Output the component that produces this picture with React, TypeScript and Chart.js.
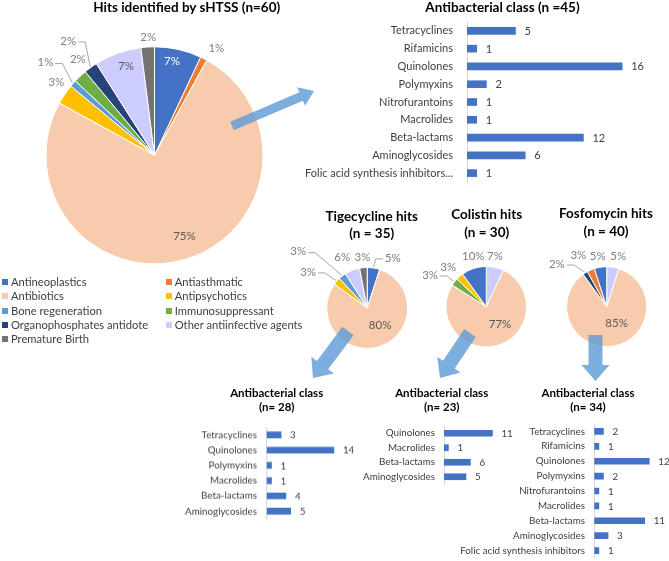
import React, { useEffect, useRef } from 'react';
import { Chart, registerables } from 'chart.js';

Chart.register(...registerables);

const FONT = 'Lato, "Open Sans", "DejaVu Sans", sans-serif';
const TEXT = '#404040';

// ---------- data ----------
const classes = [
  'Antineoplastics',
  'Antiasthmatic',
  'Antibiotics',
  'Antipsychotics',
  'Bone regeneration',
  'Immunosuppressant',
  'Organophosphates antidote',
  'Other antiinfective agents',
  'Premature Birth',
];
const hitsShare = [7, 1, 75, 3, 1, 2, 2, 7, 2];

const tigeClasses = ['Antineoplastics', 'Antibiotics', 'Antipsychotics', 'Bone regeneration', 'Other antiinfective agents', 'Premature Birth'];
const tigeShare = [5, 80, 3, 3, 6, 3];

const colClasses = ['Other antiinfective agents', 'Antibiotics', 'Immunosuppressant', 'Antipsychotics', 'Antineoplastics'];
const colShare = [7, 77, 3, 3, 10];

const fosClasses = ['Other antiinfective agents', 'Antibiotics', 'Organophosphates antidote', 'Antiasthmatic', 'Antineoplastics'];
const fosShare = [5, 85, 2, 3, 5];

const abClasses = ['Tetracyclines', 'Rifamicins', 'Quinolones', 'Polymyxins', 'Nitrofurantoins', 'Macrolides', 'Beta-lactams', 'Aminoglycosides', 'Folic acid synthesis inhibitors...'];
const abCounts = [5, 1, 16, 2, 1, 1, 12, 6, 1];

const tigeAbClasses = ['Tetracyclines', 'Quinolones', 'Polymyxins', 'Macrolides', 'Beta-lactams', 'Aminoglycosides'];
const tigeAbCounts = [3, 14, 1, 1, 4, 5];

const colAbClasses = ['Quinolones', 'Macrolides', 'Beta-lactams', 'Aminoglycosides'];
const colAbCounts = [11, 1, 6, 5];

const fosAbClasses = ['Tetracyclines', 'Rifamicins', 'Quinolones', 'Polymyxins', 'Nitrofurantoins', 'Macrolides', 'Beta-lactams', 'Aminoglycosides', 'Folic acid synthesis inhibitors'];
const fosAbCounts = [2, 1, 12, 2, 1, 1, 11, 3, 1];

const mainTitle = ['Hits identified by sHTSS (n=60)'];
const abTitle = ['Antibacterial class (n =45)'];
const tigeTitle = ['Tigecycline hits', '(n = 35)'];
const colTitle = ['Colistin hits', '(n = 30)'];
const fosTitle = ['Fosfomycin hits', '(n = 40)'];
const tigeAbTitle = ['Antibacterial class', '(n= 28)'];
const colAbTitle = ['Antibacterial class', '(n= 23)'];
const fosAbTitle = ['Antibacterial class', '(n= 34)'];

// ---------- styles ----------
const classColor: Record<string, string> = {
  'Antineoplastics': '#4472C4',
  'Antiasthmatic': '#ED7D31',
  'Antibiotics': '#F8CBAD',
  'Antipsychotics': '#FFC000',
  'Bone regeneration': '#5B9BD5',
  'Immunosuppressant': '#70AD47',
  'Organophosphates antidote': '#264478',
  'Other antiinfective agents': '#CCCCFF',
  'Premature Birth': '#767171',
};
const BAR = '#4472C4';
const OUT_LABEL = '#7F7F7F';
const IN_LABEL = '#595959';

type Place = { f: number; a: number; c?: string; leader?: boolean };
type Box = { l: number; t: number; w: number; h: number };

Chart.defaults.font.family = FONT;

const pieLabelPlugin = {
  id: 'pieLabels',
  afterDatasetsDraw(chart: any, _args: any, opts: any) {
    const meta = chart.getDatasetMeta(0);
    const ds = chart.data.datasets[0];
    const ctx = chart.ctx;
    ctx.save();
    ctx.font = `${opts.size}px ${FONT}`;
    ctx.textAlign = 'center';
    ctx.textBaseline = 'middle';
    meta.data.forEach((arc: any, i: number) => {
      const p: Place = opts.place[i];
      const { x, y, startAngle, endAngle, outerRadius } = arc.getProps(['x', 'y', 'startAngle', 'endAngle', 'outerRadius'], true);
      const mid = (startAngle + endAngle) / 2;
      const ang = mid + (p.a * Math.PI) / 180;
      const rr = outerRadius * p.f;
      const lx = x + Math.cos(ang) * rr;
      const ly = y + Math.sin(ang) * rr;
      const text = `${ds.data[i]}%`;
      if (p.leader) {
        const w = ctx.measureText(text).width;
        const ex = x + Math.cos(mid) * (outerRadius + 1);
        const ey = y + Math.sin(mid) * (outerRadius + 1);
        const left = lx < ex;
        const sx = left ? lx + w / 2 + 2 : lx - w / 2 - 2;
        const bx = left ? sx + 7 : sx - 7;
        ctx.strokeStyle = '#A6A6A6';
        ctx.lineWidth = 1;
        ctx.beginPath();
        ctx.moveTo(sx, ly + 1);
        ctx.lineTo(bx, ly + 1);
        ctx.lineTo(ex, ey);
        ctx.stroke();
      }
      ctx.fillStyle = p.c || OUT_LABEL;
      ctx.fillText(text, lx, ly);
    });
    ctx.restore();
  },
};

const barValuePlugin = {
  id: 'barValues',
  afterDatasetsDraw(chart: any, _args: any, opts: any) {
    const meta = chart.getDatasetMeta(0);
    const ds = chart.data.datasets[0];
    const ctx = chart.ctx;
    ctx.save();
    ctx.font = `${opts.size}px ${FONT}`;
    ctx.fillStyle = TEXT;
    ctx.textAlign = 'left';
    ctx.textBaseline = 'middle';
    meta.data.forEach((bar: any, i: number) => {
      const { x, y } = bar.getProps(['x', 'y'], true);
      ctx.fillText(String(ds.data[i]), x + opts.gap, y + 0.5);
    });
    ctx.restore();
  },
};

function PieChart(props: { cats: string[]; values: number[]; cx: number; cy: number; r: number; box: Box; place: Place[]; size: number }) {
  const ref = useRef<HTMLCanvasElement>(null);
  useEffect(() => {
    const { cats, values, cx, cy, r, box, place, size } = props;
    const half = r + 0.5;
    const chart = new Chart(ref.current!, {
      type: 'pie',
      data: {
        labels: cats,
        datasets: [{ data: values, backgroundColor: cats.map((c) => classColor[c]), borderColor: '#ffffff', borderWidth: 1, hoverOffset: 0 }],
      },
      options: {
        responsive: false,
        animation: false,
        events: [],
        layout: {
          padding: {
            left: cx - half - box.l,
            right: box.l + box.w - cx - half,
            top: cy - half - box.t,
            bottom: box.t + box.h - cy - half,
          },
        },
        plugins: {
          legend: { display: false },
          tooltip: { enabled: false },
          pieLabels: { place, size },
        } as any,
      },
      plugins: [pieLabelPlugin],
    });
    return () => chart.destroy();
  }, []);
  const { box } = props;
  return <canvas ref={ref} width={box.w} height={box.h} style={{ position: 'absolute', left: box.l, top: box.t, width: box.w, height: box.h }} />;
}

function BarChart(props: {
  cats: string[]; values: number[]; l: number; w: number; axisX: number; labelRight: number;
  firstY: number; step: number; ppu: number; thick: number; size: number;
}) {
  const ref = useRef<HTMLCanvasElement>(null);
  const PAD = 34;
  const n = props.cats.length;
  const top = props.firstY - props.step / 2 - PAD;
  const height = n * props.step + 2 * PAD;
  useEffect(() => {
    const { cats, values, l, w, axisX, labelRight, ppu, thick, size } = props;
    const axisW = axisX - l;
    const chart = new Chart(ref.current!, {
      type: 'bar',
      data: {
        labels: cats,
        datasets: [{ data: values, backgroundColor: BAR, barThickness: thick, borderWidth: 0 }],
      },
      options: {
        indexAxis: 'y',
        responsive: false,
        animation: false,
        events: [],
        layout: { padding: { left: 0, right: 0, top: PAD, bottom: PAD } },
        scales: {
          x: { display: false, min: 0, max: (w - axisW) / ppu },
          y: {
            grid: { display: false, drawTicks: false },
            border: { display: true, color: '#D9D9D9', width: 1 },
            ticks: { color: TEXT, font: { size, family: FONT }, padding: axisX - labelRight, autoSkip: false },
            afterFit: (scale: any) => { scale.width = axisW; },
          },
        },
        plugins: {
          legend: { display: false },
          tooltip: { enabled: false },
          barValues: { size, gap: 9 },
        } as any,
      },
      plugins: [barValuePlugin],
    });
    return () => chart.destroy();
  }, []);
  return <canvas ref={ref} width={props.w} height={height} style={{ position: 'absolute', left: props.l, top, width: props.w, height }} />;
}

function Title(props: { lines: string[]; cx: number; cys: number[]; size: number }) {
  const lh = Math.round(props.size * 1.3);
  return (
    <>
      {props.lines.map((s, i) => (
        <div key={i} style={{
          position: 'absolute', left: props.cx - 150, width: 300, top: props.cys[i] - lh / 2, lineHeight: `${lh}px`,
          textAlign: 'center', fontFamily: FONT, fontWeight: 700, fontSize: props.size, color: '#000', whiteSpace: 'nowrap',
        }}>{s}</div>
      ))}
    </>
  );
}

function Legend() {
  return (
    <>
      {classes.map((c, i) => {
        const col = i % 2;
        const row = Math.floor(i / 2);
        const left = col ? 165.7 : 2;
        const cy = 282 + row * 14.25;
        return (
          <div key={c} style={{ position: 'absolute', left, top: cy - 8, height: 16, lineHeight: '16px', whiteSpace: 'nowrap', fontFamily: FONT, fontSize: 11.2, color: TEXT }}>
            <span style={{ display: 'inline-block', width: 6, height: 6, background: classColor[c], marginRight: 3, verticalAlign: 'middle', position: 'relative', top: -1 }} />
            {c}
          </div>
        );
      })}
    </>
  );
}

function arrowPts(x1: number, y1: number, x2: number, y2: number, sw: number, hw: number, hl: number) {
  const len = Math.hypot(x2 - x1, y2 - y1);
  const ux = (x2 - x1) / len, uy = (y2 - y1) / len;
  const px = -uy, py = ux;
  const bx = x2 - ux * hl, by = y2 - uy * hl;
  const pts = [
    [x1 + px * sw / 2, y1 + py * sw / 2],
    [bx + px * sw / 2, by + py * sw / 2],
    [bx + px * hw / 2, by + py * hw / 2],
    [x2, y2],
    [bx - px * hw / 2, by - py * hw / 2],
    [bx - px * sw / 2, by - py * sw / 2],
    [x1 - px * sw / 2, y1 - py * sw / 2],
  ];
  return pts.map((p) => p.join(',')).join(' ');
}

function Arrows() {
  const fill = 'rgba(91,155,213,0.8)';
  return (
    <svg width={669} height={561} style={{ position: 'absolute', left: 0, top: 0, pointerEvents: 'none' }}>
      <polygon points={arrowPts(232, 126, 314, 91, 9, 20, 14)} fill={fill} />
      <polygon points={arrowPts(348, 331, 313, 378, 14, 28, 16)} fill={fill} />
      <polygon points={arrowPts(470, 333, 440, 378, 14, 28, 16)} fill={fill} />
      <polygon points={arrowPts(595.5, 335, 595.5, 381, 14, 28, 16)} fill={fill} />
    </svg>
  );
}

const mainPlace: Place[] = [
  { f: 0.88, a: -2, c: '#ffffff' },
  { f: 1.14, a: 3 },
  { f: 0.8, a: -4, c: IN_LABEL },
  { f: 1.13, a: 2.5 },
  { f: 1.32, a: -1, leader: true },
  { f: 1.13, a: 4.5 },
  { f: 1.32, a: -1, leader: true },
  { f: 0.86, a: 2, c: IN_LABEL },
  { f: 1.09, a: 0.6 },
];
const tigePlace: Place[] = [
  { f: 1.39, a: 18, leader: true },
  { f: 0.53, a: -19, c: IN_LABEL },
  { f: 1.71, a: -10, leader: true },
  { f: 2.2, a: -13, leader: true },
  { f: 1.39, a: -4.7 },
  { f: 1.25, a: 0 },
];
const colPlace: Place[] = [
  { f: 1.26, a: -2.7 },
  { f: 0.55, a: -22, c: IN_LABEL },
  { f: 1.6, a: -8.4, leader: true },
  { f: 1.36, a: -2.6 },
  { f: 1.28, a: 3.4 },
];
const fosPlace: Place[] = [
  { f: 1.3, a: 3.9 },
  { f: 0.48, a: -22, c: IN_LABEL },
  { f: 1.64, a: -17, leader: true },
  { f: 1.47, a: -5.4 },
  { f: 1.29, a: -1 },
];

export default function App() {
  return (
    <div style={{ position: 'fixed', left: 0, top: 0, width: 669, height: 561, background: '#fff', overflow: 'hidden' }}>
      <PieChart cats={classes} values={hitsShare} cx={154.5} cy={155.3} r={108.5} box={{ l: 0, t: 20, w: 320, h: 255 }} place={mainPlace} size={11.5} />
      <PieChart cats={tigeClasses} values={tigeShare} cx={367.2} cy={308} r={40.5} box={{ l: 280, t: 240, w: 150, h: 120 }} place={tigePlace} size={11.5} />
      <PieChart cats={colClasses} values={colShare} cx={486.3} cy={306.7} r={40.3} box={{ l: 412, t: 240, w: 125, h: 120 }} place={colPlace} size={11.5} />
      <PieChart cats={fosClasses} values={fosShare} cx={606.7} cy={306.7} r={40} box={{ l: 540, t: 240, w: 129, h: 120 }} place={fosPlace} size={11.5} />

      <BarChart cats={abClasses} values={abCounts} l={305} w={364} axisX={467} labelRight={453} firstY={30.7} step={17.8} ppu={9.7} thick={7} size={11} />
      <BarChart cats={tigeAbClasses} values={tigeAbCounts} l={175} w={185} axisX={266.7} labelRight={257} firstY={435} step={15.2} ppu={4.8} thick={6} size={9.8} />
      <BarChart cats={colAbClasses} values={colAbCounts} l={350} w={180} axisX={444} labelRight={435} firstY={433} step={14.7} ppu={4.4} thick={6} size={9.8} />
      <BarChart cats={fosAbClasses} values={fosAbCounts} l={455} w={214} axisX={594.3} labelRight={585} firstY={431.7} step={14.9} ppu={4.58} thick={6} size={9.8} />

      <Title lines={mainTitle} cx={186.7} cys={[7]} size={13.5} />
      <Title lines={abTitle} cx={502.5} cys={[7]} size={13.5} />
      <Title lines={tigeTitle} cx={371.7} cys={[215.7, 233]} size={13.5} />
      <Title lines={colTitle} cx={486.7} cys={[214, 231.7]} size={13.5} />
      <Title lines={fosTitle} cx={606} cys={[213, 231]} size={13.5} />
      <Title lines={tigeAbTitle} cx={276.7} cys={[392, 406]} size={11.5} />
      <Title lines={colAbTitle} cx={441.7} cys={[392, 406]} size={11.5} />
      <Title lines={fosAbTitle} cx={588} cys={[392, 406]} size={11.5} />

      <Legend />
      <Arrows />
    </div>
  );
}
